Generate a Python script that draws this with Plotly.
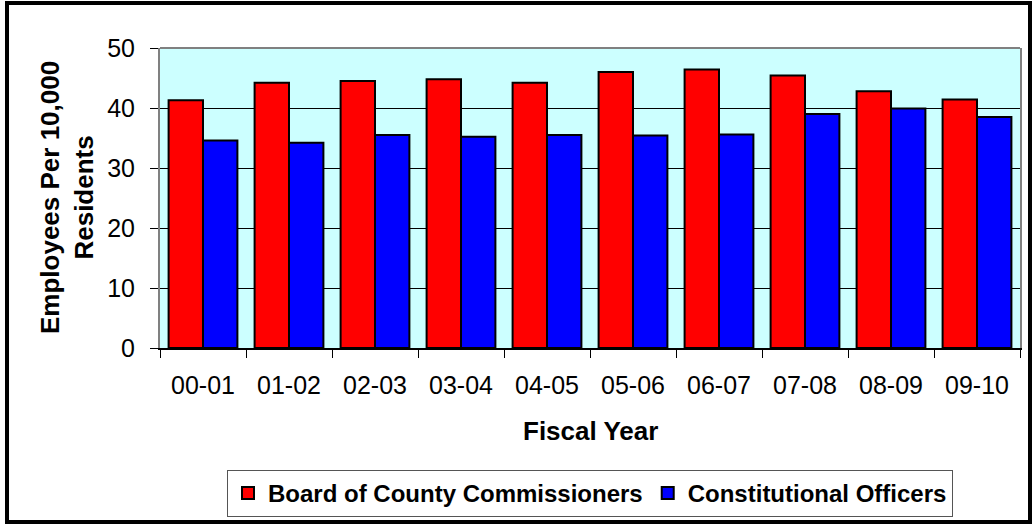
import plotly.graph_objects as go

# Fiscal years and staffing levels per 10,000 residents
years = ["00-01", "01-02", "02-03", "03-04", "04-05",
         "05-06", "06-07", "07-08", "08-09", "09-10"]
board_of_county_commissioners = [41.3, 44.2, 44.5, 44.8, 44.2, 46.0, 46.4, 45.4, 42.8, 41.4]
constitutional_officers = [34.6, 34.2, 35.5, 35.2, 35.5, 35.4, 35.6, 39.0, 39.9, 38.5]
y_ticks = [0, 10, 20, 30, 40, 50]

FONT = "Liberation Sans, Arial, sans-serif"
TICK_SIZE = 25
TITLE_SIZE = 26
LEGEND_SIZE = 24

fig = go.Figure()
fig.add_trace(go.Bar(
    x=years, y=board_of_county_commissioners, name="Board of County Commissioners",
    marker=dict(color="#FF0000", line=dict(color="#000000", width=2)),
))
fig.add_trace(go.Bar(
    x=years, y=constitutional_officers, name="Constitutional Officers",
    marker=dict(color="#0000FF", line=dict(color="#000000", width=2)),
))

W, H = 1033, 525
L, R, T, B = 160, 13, 48, 177
pw, ph = W - L - R, H - T - B


def px_x(x):
    return (x - L) / pw


def px_y(y):
    return (H - B - y) / ph


fig.update_layout(
    width=W, height=H,
    margin=dict(l=L, r=R, t=T, b=B, pad=0, autoexpand=False),
    paper_bgcolor="white",
    plot_bgcolor="#CCFFFF",
    barmode="group",
    bargap=0.2,
    bargroupgap=0,
    font=dict(family=FONT, color="black", size=TICK_SIZE),
    showlegend=True,
    legend=dict(
        orientation="h",
        x=0.5, xanchor="center",
        y=px_y(470), yanchor="top",
        bgcolor="white",
        bordercolor="#555555",
        borderwidth=1,
        font=dict(family=FONT, size=LEGEND_SIZE, color="black", weight="bold"),
        itemsizing="constant",
        traceorder="normal",
    ),
    xaxis=dict(
        type="category",
        showline=True, linecolor="#000000", linewidth=2,
        ticks="outside", tickson="boundaries", ticklen=8, tickcolor="#000000",
        tickfont=dict(family=FONT, size=TICK_SIZE, color="black"),
        ticklabelstandoff=14,
        showgrid=False,
        automargin=False,
    ),
    yaxis=dict(
        range=[0, 50],
        tickvals=y_ticks,
        showline=True, linecolor="#808080", linewidth=2, mirror=True,
        ticks="outside", ticklen=8, tickcolor="#000000",
        tickfont=dict(family=FONT, size=TICK_SIZE, color="black"),
        ticklabelstandoff=10,
        showgrid=True, gridcolor="#000000", gridwidth=1,
        zeroline=False,
        automargin=False,
    ),
    annotations=[
        dict(
            text="Employees Per 10,000<br>Residents",
            xref="paper", yref="paper",
            x=px_x(67), y=0.5, xanchor="center", yanchor="middle",
            textangle=-90, showarrow=False,
            font=dict(family=FONT, size=TITLE_SIZE, color="black", weight="bold"),
        ),
        dict(
            text="Fiscal Year",
            xref="paper", yref="paper",
            x=0.5, y=px_y(431), xanchor="center", yanchor="middle",
            showarrow=False,
            font=dict(family=FONT, size=TITLE_SIZE, color="black", weight="bold"),
        ),
    ],
    shapes=[
        # top edge of the plotting area
        dict(type="line", xref="paper", yref="paper", x0=0, x1=1, y0=1, y1=1,
             line=dict(color="#808080", width=2), layer="above"),
        # outer frame around the whole chart
        dict(type="rect", xref="paper", yref="paper",
             x0=px_x(7), x1=px_x(1030), y0=px_y(522), y1=px_y(3),
             line=dict(color="#000000", width=4), fillcolor="rgba(0,0,0,0)",
             layer="above"),
    ],
)

fig.write_html("out.html")
